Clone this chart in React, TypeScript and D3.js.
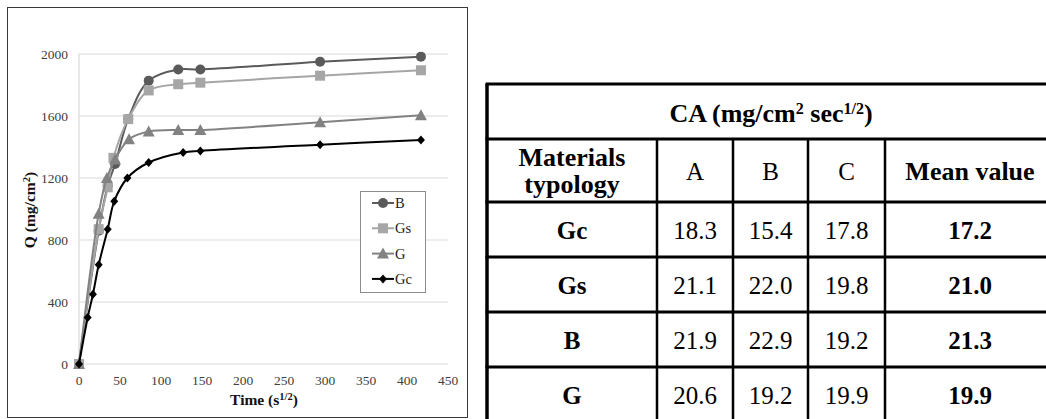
import React from "react";
import * as d3 from "d3";

// ---- chart data ----
const seriesNames = ["B", "Gs", "G", "Gc"];
const timeB = [0, 24, 35, 44, 60, 85, 121, 148, 294, 417];
const qB = [0, 860, 1150, 1290, 1580, 1828, 1900, 1900, 1950, 1983];
const timeGs = [0, 24, 35, 42, 60, 85, 121, 148, 294, 417];
const qGs = [0, 870, 1140, 1330, 1580, 1765, 1805, 1815, 1860, 1895];
const timeG = [0, 24, 34, 44, 61, 85, 121, 148, 294, 417];
const qG = [0, 970, 1200, 1320, 1450, 1500, 1510, 1510, 1560, 1605];
const timeGc = [0, 10.6, 17, 24, 35, 43, 59, 85, 127, 148, 294, 417];
const qGc = [0, 300, 450, 640, 870, 1050, 1200, 1300, 1365, 1375, 1415, 1445];
const xTicks = [0, 50, 100, 150, 200, 250, 300, 350, 400, 450];
const yTicks = [0, 400, 800, 1200, 1600, 2000];

// ---- table data ----
const tableTitle = "CA";
const headerCols = ["A", "B", "C", "Mean value"];
const rowNames = ["Gc", "Gs", "B", "G"];
const colA = [18.3, 21.1, 21.9, 20.6];
const colB = [15.4, 22.0, 22.9, 19.2];
const colC = [17.8, 19.8, 19.2, 19.9];
const meanVals = [17.2, 21.0, 21.3, 19.9];

const styles: Record<string, { color: string; marker: string }> = {
  B: { color: "#5a5a5a", marker: "circle" },
  Gs: { color: "#a6a6a6", marker: "square" },
  G: { color: "#828282", marker: "triangle" },
  Gc: { color: "#000000", marker: "diamond" },
};

const serif = "'Liberation Serif', 'Times New Roman', serif";

function Marker({ type, x, y, color }: { type: string; x: number; y: number; color: string }) {
  if (type === "circle") return <circle cx={x} cy={y} r={5} fill={color} />;
  if (type === "square") return <rect x={x - 5} y={y - 5} width={10} height={10} fill={color} />;
  if (type === "triangle")
    return <path d={`M${x},${y - 6} L${x + 6},${y + 5} L${x - 6},${y + 5} Z`} fill={color} />;
  return <path d={`M${x},${y - 4.5} L${x + 4},${y} L${x},${y + 4.5} L${x - 4},${y} Z`} fill={color} />;
}

export default function App() {
  const x = d3.scaleLinear().domain([0, 450]).range([79, 448]);
  const y = d3.scaleLinear().domain([0, 2000]).range([364, 54]);
  const line = d3
    .line<[number, number]>()
    .x((d) => x(d[0]))
    .y((d) => y(d[1]))
    .curve(d3.curveCatmullRom.alpha(0.5));

  const seriesData: Record<string, [number, number][]> = {
    B: timeB.map((t, i) => [t, qB[i]]),
    Gs: timeGs.map((t, i) => [t, qGs[i]]),
    G: timeG.map((t, i) => [t, qG[i]]),
    Gc: timeGc.map((t, i) => [t, qGc[i]]),
  };

  // table layout
  const colX = [487, 657, 733, 808, 885, 1055];
  const rowY = [84, 139, 202, 257, 312, 367, 422];
  const tableRowsData = rowNames.map((n, i) => [n, colA[i], colB[i], colC[i], meanVals[i]]);

  return (
    <svg width={1046} height={419} style={{ position: "absolute", left: 0, top: 0, background: "#fff" }}>
      <rect x={0} y={0} width={1046} height={419} fill="#fff" />
      {/* chart frame */}
      <rect x={7.5} y={7.5} width={460} height={410} fill="none" stroke="#3a3a3a" strokeWidth={1} />
      {/* gridlines */}
      {yTicks.map((t) => (
        <line key={t} x1={79} x2={448} y1={y(t)} y2={y(t)} stroke="#d9d9d9" strokeWidth={1.2} />
      ))}
      <line x1={79} x2={79} y1={54} y2={364} stroke="#d9d9d9" strokeWidth={1.2} />
      {/* tick labels */}
      {yTicks.map((t) => (
        <text key={t} x={68} y={y(t) + 4.5} textAnchor="end" fontSize={13.5} fill="#404040" fontFamily={serif}>
          {t}
        </text>
      ))}
      {xTicks.map((t) => (
        <text key={t} x={x(t)} y={385} textAnchor="middle" fontSize={13.5} fill="#404040" fontFamily={serif}>
          {t}
        </text>
      ))}
      {/* axis titles */}
      <text x={264} y={405} textAnchor="middle" fontSize={15.5} fontWeight="bold" fill="#111" fontFamily={serif}>
        Time (s
        <tspan baselineShift="super" fontSize={10.5}>
          1/2
        </tspan>
        )
      </text>
      <text
        transform="translate(35,210) rotate(-90)"
        textAnchor="middle"
        fontSize={15.5}
        fontWeight="bold"
        fill="#111"
        fontFamily={serif}
      >
        Q (mg/cm
        <tspan baselineShift="super" fontSize={10.5}>
          2
        </tspan>
        )
      </text>
      {/* series */}
      {seriesNames.map((n) => (
        <g key={n}>
          <path d={line(seriesData[n]) || ""} fill="none" stroke={styles[n].color} strokeWidth={2} />
          {seriesData[n].map((d, i) => (
            <Marker key={i} type={styles[n].marker} x={x(d[0])} y={y(d[1])} color={styles[n].color} />
          ))}
        </g>
      ))}
      {/* legend */}
      <rect x={360.5} y={191.5} width={65} height={101} fill="#fff" stroke="#8c8c8c" strokeWidth={1} />
      {seriesNames.map((n, i) => {
        const ly = 203 + i * 25.3;
        return (
          <g key={n}>
            <line x1={372} x2={394} y1={ly} y2={ly} stroke={styles[n].color} strokeWidth={2} />
            <Marker type={styles[n].marker} x={383} y={ly} color={styles[n].color} />
            <text x={395} y={ly + 5} fontSize={14.5} fill="#222" fontFamily={serif}>
              {n}
            </text>
          </g>
        );
      })}

      {/* table */}
      <g fill="#000" fontFamily={serif}>
        <text x={(colX[0] + colX[5]) / 2} y={122} textAnchor="middle" fontSize={26} fontWeight="bold" fontFamily={serif}>
          {tableTitle} (mg/cm
          <tspan baselineShift="super" fontSize={16}>
            2
          </tspan>
          <tspan baselineShift="baseline"> sec</tspan>
          <tspan baselineShift="super" fontSize={16}>
            1/2
          </tspan>
          <tspan baselineShift="baseline">)</tspan>
        </text>
        <text x={(colX[0] + colX[1]) / 2} y={166} textAnchor="middle" fontSize={26} fontWeight="bold" fontFamily={serif}>
          Materials
        </text>
        <text x={(colX[0] + colX[1]) / 2} y={193} textAnchor="middle" fontSize={26} fontWeight="bold" fontFamily={serif}>
          typology
        </text>
        {headerCols.map((h, i) => (
          <text
            key={h}
            x={(colX[i + 1] + colX[i + 2]) / 2}
            y={180}
            textAnchor="middle"
            fontSize={i === 3 ? 26 : 25}
            fontWeight={i === 3 ? "bold" : "normal"}
            fontFamily={serif}
          >
            {h}
          </text>
        ))}
        {tableRowsData.map((r, ri) =>
          r.map((v, ci) => (
            <text
              key={ri + "-" + ci}
              x={(colX[ci] + colX[ci + 1]) / 2}
              y={(rowY[ri + 2] + rowY[ri + 3]) / 2 + 9}
              textAnchor="middle"
              fontSize={25}
              fontWeight={ci === 0 || ci === 4 ? "bold" : "normal"}
              fontFamily={serif}
            >
              {typeof v === "number" ? v.toFixed(1) : v}
            </text>
          ))
        )}
        {/* horizontal borders */}
        {rowY.map((ry, i) => (
          <line key={"h" + i} x1={colX[0] - 1.5} x2={colX[5]} y1={ry} y2={ry} stroke="#000" strokeWidth={3} />
        ))}
        {/* vertical borders */}
        <line x1={colX[0]} x2={colX[0]} y1={rowY[0]} y2={rowY[6]} stroke="#000" strokeWidth={3.5} />
        {colX.slice(1, 5).map((cx, i) => (
          <line key={"v" + i} x1={cx} x2={cx} y1={rowY[1]} y2={rowY[6]} stroke="#000" strokeWidth={2.5} />
        ))}
      </g>
    </svg>
  );
}
